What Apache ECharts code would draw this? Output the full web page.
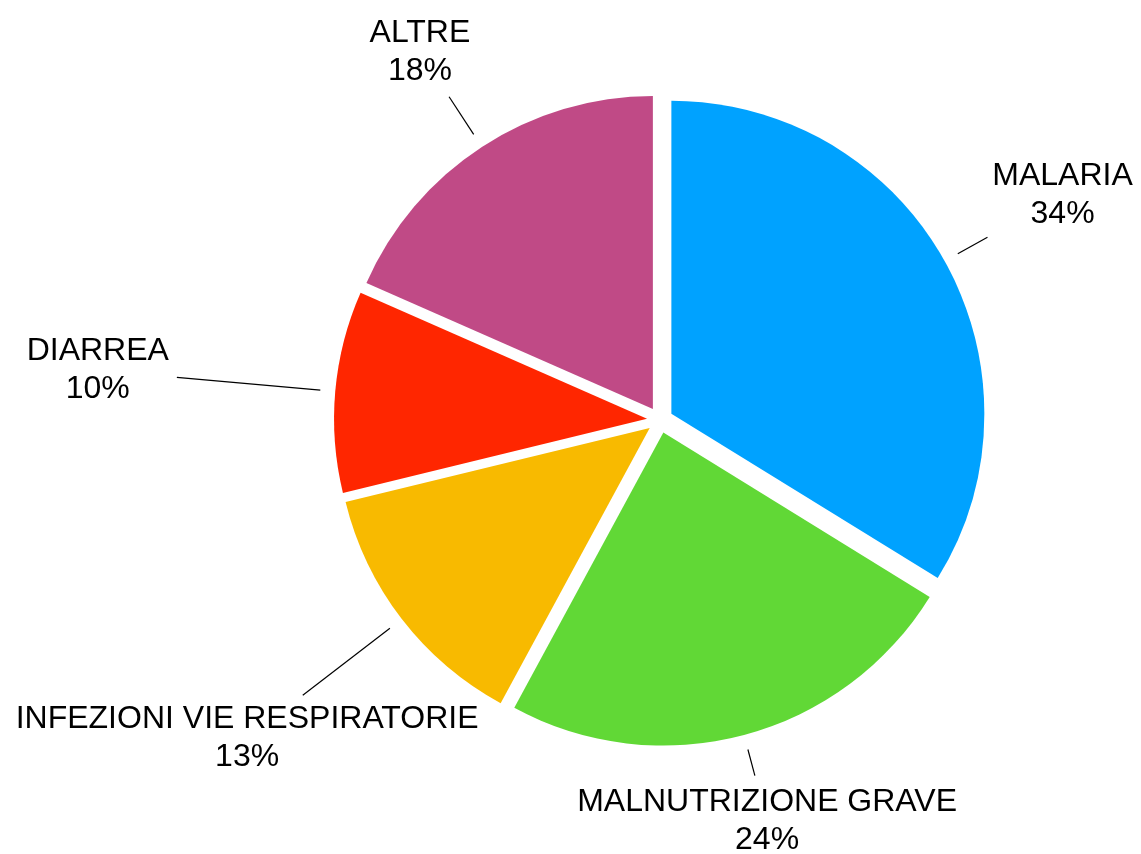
<!DOCTYPE html>
<html>
<head>
<meta charset="utf-8">
<style>
  html, body { margin: 0; padding: 0; background: #fff; }
  #container { width: 1141px; height: 854px; }
</style>
<script src="https://cdn.jsdelivr.net/npm/echarts@6/dist/echarts.min.js"></script>
</head>
<body>
<div id="container"></div>
<script>
// dati della torta (percentuali stimate dagli angoli, etichette arrotondate)
const categories = ['MALARIA', 'MALNUTRIZIONE GRAVE', 'INFEZIONI VIE RESPIRATORIE', 'DIARREA', 'ALTRE'];
const percentValues = [33.8, 24.1, 13.3, 10.4, 18.4];

const sliceColors = ['#00A2FF', '#61D836', '#F8BA00', '#FF2600', '#C04A86'];
// lunghezza delle linee guida per ogni fetta
const leaderLength = [34, 27, 110, 144, 45];

let dom = document.getElementById('container');
let myChart = echarts.init(dom, null, { renderer: 'canvas' });

const pieCenter = [660, 420];
const pieRadius = 313;
const explode = 13;

// fette "esplose"
const sliceData = categories.map(function (name, i) {
  return {
    name: name,
    value: percentValues[i],
    selected: true,
    itemStyle: { color: sliceColors[i] }
  };
});

// stessa torta trasparente, solo per le etichette (non selezionata)
const labelData = categories.map(function (name, i) {
  return { name: name, value: percentValues[i] };
});

let option = {
  animation: false,
  series: [{
    type: 'pie',
    center: pieCenter,
    radius: pieRadius,
    startAngle: 90,
    clockwise: true,
    selectedMode: 'multiple',
    selectedOffset: explode,
    emphasis: { disabled: true },
    label: { show: false },
    labelLine: { show: false },
    data: sliceData
  }, {
    type: 'pie',
    center: pieCenter,
    radius: pieRadius,
    startAngle: 90,
    clockwise: true,
    silent: true,
    selectedMode: false,
    avoidLabelOverlap: false,
    emphasis: { disabled: true },
    itemStyle: { color: 'rgba(0,0,0,0)' },
    label: {
      show: true,
      position: 'outside',
      formatter: function (p) {
        return p.name + '\n' + Math.round(p.value) + '%';
      },
      fontFamily: 'Liberation Sans, Arial, Helvetica, sans-serif',
      fontSize: 32,
      lineHeight: 38,
      color: '#000',
      align: 'center'
    },
    labelLine: {
      show: true,
      length: 20,
      length2: 0,
      smooth: false,
      lineStyle: { color: '#000', width: 1.2 }
    },
    labelLayout: function (params) {
      const pts = params.labelLinePoints;
      if (!pts) return {};
      const p0 = pts[0], p1 = pts[1];
      let dx = p1[0] - p0[0], dy = p1[1] - p0[1];
      const n = Math.sqrt(dx * dx + dy * dy) || 1;
      dx /= n; dy /= n;
      const gap = explode + 15;
      const len = leaderLength[params.dataIndex];
      const start = [p0[0] + dx * gap, p0[1] + dy * gap];
      const end = [start[0] + dx * len, start[1] + dy * len];
      const w = params.labelRect.width, h = params.labelRect.height;
      const tx = Math.abs(dx) > 1e-6 ? (w / 2) / Math.abs(dx) : Infinity;
      const ty = Math.abs(dy) > 1e-6 ? (h / 2) / Math.abs(dy) : Infinity;
      const t = Math.min(tx, ty) + 8;
      return {
        x: end[0] + dx * t,
        y: end[1] + dy * t,
        align: 'center',
        verticalAlign: 'middle',
        labelLinePoints: [start, end, end]
      };
    },
    data: labelData
  }]
};

myChart.setOption(option);
</script>
</body>
</html>
